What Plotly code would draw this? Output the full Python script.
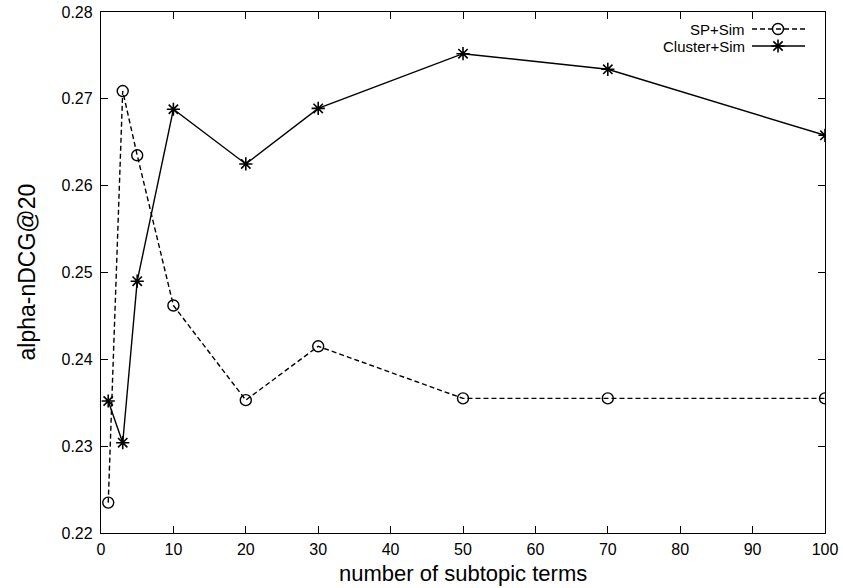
import plotly.graph_objects as go

terms = [1, 3, 5, 10, 20, 30, 50, 70, 100]
sp_sim = [0.2235, 0.2709, 0.2635, 0.2462, 0.2353, 0.2415, 0.2355, 0.2355, 0.2355]
cluster_sim = [0.2352, 0.2304, 0.2490, 0.2688, 0.2625, 0.2689, 0.2752, 0.2734, 0.2658]
series_names = ["SP+Sim", "Cluster+Sim"]
x_ticks = list(range(0, 101, 10))
y_ticks = [0.22, 0.23, 0.24, 0.25, 0.26, 0.27, 0.28]
x_title = "number of subtopic terms"
y_title = "alpha-nDCG@20"

FONT = "Liberation Sans, Arial, sans-serif"
W, H = 843, 588
L, R, T, B = 101, 18, 12, 55
pw, ph = W - L - R, H - T - B

fig = go.Figure()
fig.add_trace(go.Scatter(
    x=terms, y=sp_sim, mode="lines+markers", name=series_names[0],
    line=dict(color="black", width=1.4, dash="5px,3px"),
    marker=dict(symbol="circle-open", size=11, color="black", line=dict(width=1.4)),
    showlegend=False))
fig.add_trace(go.Scatter(
    x=terms, y=cluster_sim, mode="lines+markers", name=series_names[1],
    line=dict(color="black", width=1.4),
    marker=dict(symbol="asterisk-open", size=11, color="black", line=dict(width=1.6)),
    showlegend=False))

def fx(px):
    return (px - L) / pw

def fy(py):
    return (H - B - py) / ph

# manual legend (text left of sample) drawn on a hidden overlay axis
rows = [29, 46]
styles = [
    (dict(color="black", width=1.4, dash="5px,3px"), dict(symbol="circle-open", size=11, color="black", line=dict(width=1.4))),
    (dict(color="black", width=1.4), dict(symbol="asterisk-open", size=11, color="black", line=dict(width=1.6))),
]
for name, ry, (ln, mk) in zip(series_names, rows, styles):
    fig.add_trace(go.Scatter(x=[fx(752), fx(805)], y=[fy(ry), fy(ry)], mode="lines",
                             line=ln, xaxis="x2", yaxis="y2", showlegend=False, hoverinfo="skip"))
    fig.add_trace(go.Scatter(x=[fx(778)], y=[fy(ry)], mode="markers",
                             marker=mk, xaxis="x2", yaxis="y2", showlegend=False, hoverinfo="skip"))
    fig.add_annotation(text=name, xref="paper", yref="paper", x=fx(746), y=fy(ry),
                       xanchor="right", yanchor="middle", showarrow=False, borderpad=0,
                       font=dict(family=FONT, size=15, color="black"))

# axis titles
fig.add_annotation(text=x_title, xref="paper", yref="paper", x=0.5, y=fy(573),
                   xanchor="center", yanchor="middle", showarrow=False, borderpad=0,
                   font=dict(family=FONT, size=22, color="black"))
fig.add_annotation(text=y_title, xref="paper", yref="paper", x=fx(26), y=0.5, textangle=-90,
                   xanchor="center", yanchor="middle", showarrow=False, borderpad=0,
                   font=dict(family=FONT, size=23, color="black"))

axis_common = dict(showgrid=False, zeroline=False, showline=True, linecolor="black", linewidth=1.3,
                   mirror="ticks", ticks="inside", ticklen=7, tickwidth=1.2, tickcolor="black",
                   automargin=False, tickfont=dict(family=FONT, size=16, color="black"))

fig.update_layout(
    width=W, height=H,
    margin=dict(l=L, r=R, t=T, b=B, autoexpand=False),
    paper_bgcolor="white", plot_bgcolor="white",
    xaxis=dict(range=[0, 100], tickvals=x_ticks, ticktext=[str(v) for v in x_ticks],
               ticklabelstandoff=2, **axis_common),
    yaxis=dict(range=[0.22, 0.28], tickvals=y_ticks, ticktext=[f"{v:.2f}" for v in y_ticks],
               ticklabelstandoff=4, **axis_common),
    xaxis2=dict(overlaying="x", range=[0, 1], visible=False),
    yaxis2=dict(overlaying="y", range=[0, 1], visible=False),
)

fig.write_html("out.html", config={"displayModeBar": False},
               post_script="document.body.style.margin='0';document.body.style.overflow='hidden';")
